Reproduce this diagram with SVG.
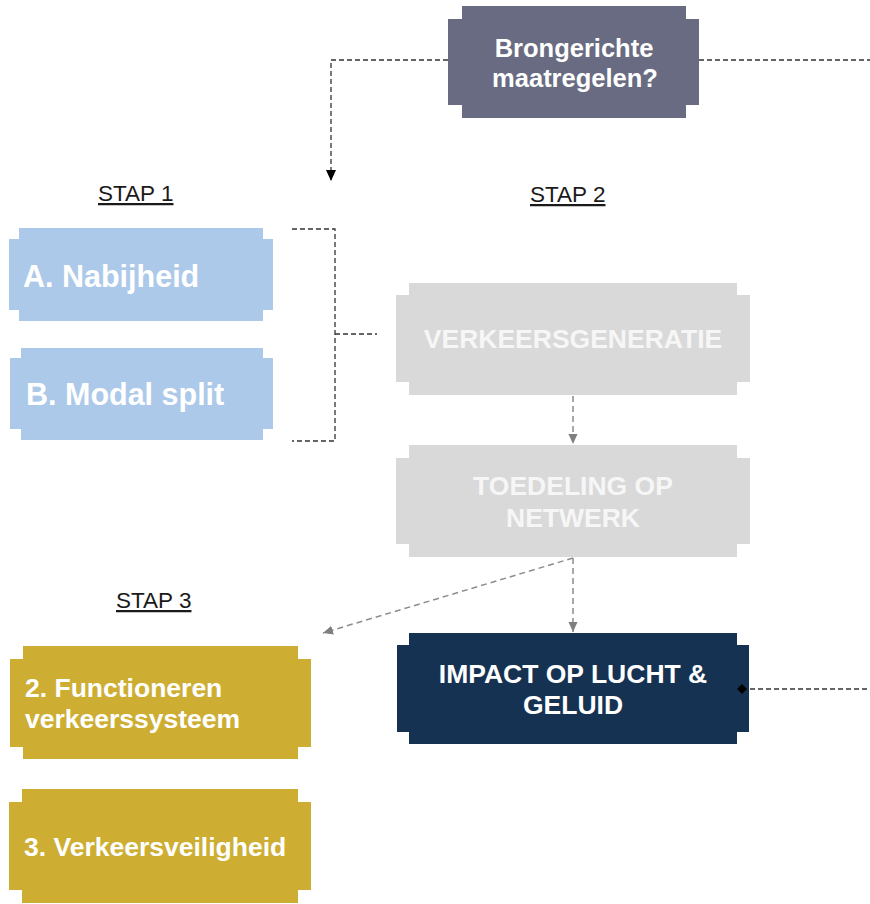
<svg xmlns="http://www.w3.org/2000/svg" width="870" height="904" viewBox="0 0 870 904">
<style>
.lbl{font-family:"Liberation Sans",Arial,sans-serif;font-weight:bold;fill:#ffffff}
.lg{fill:#f6f6f6}
.stap{font-family:"Liberation Sans",Arial,sans-serif;font-size:22.5px;fill:#1a1a1a;text-decoration:underline}
.dk{fill:none;stroke:#333333;stroke-width:1.3;stroke-dasharray:5 3}
.gr{fill:none;stroke:#8c8c8c;stroke-width:1.5;stroke-dasharray:6 4}
</style>
<defs>
<marker id="ak" markerUnits="userSpaceOnUse" markerWidth="12" markerHeight="12" viewBox="0 0 12 12" refX="11" refY="6" orient="auto">
<path d="M0,1 L11,6 L0,11 Z" fill="#000000"/>
</marker>
<marker id="ag" markerUnits="userSpaceOnUse" markerWidth="11" markerHeight="11" viewBox="0 0 11 11" refX="10" refY="5.5" orient="auto">
<path d="M0,1 L10,5.5 L0,10 Z" fill="#7f7f7f"/>
</marker>
<marker id="dm" markerUnits="userSpaceOnUse" markerWidth="10" markerHeight="10" viewBox="0 0 10 10" refX="5" refY="5" orient="auto">
<path d="M0,5 L5,0 L10,5 L5,10 Z" fill="#000000"/>
</marker>
</defs>

<g id="brongerichte">
<path d="M462,6 H686 V19 H699 V105 H686 V118 H462 V105 H448 V19 H462 Z" fill="#696b82"/>
<text class="lbl" font-size="25.5" text-anchor="middle" x="574" y="57">Brongerichte</text>
<text class="lbl" font-size="25.5" text-anchor="middle" x="575" y="87">maatregelen?</text>
</g>

<g id="stap1"><text class="stap" x="98" y="201">STAP 1</text></g>
<g id="stap2"><text class="stap" x="530" y="202">STAP 2</text></g>
<g id="stap3"><text class="stap" x="116" y="608">STAP 3</text></g>

<g id="nabijheid">
<path d="M19,228 H263 V239 H273 V310 H263 V321 H19 V310 H9 V239 H19 Z" fill="#adc9e9"/>
<text class="lbl" font-size="30.5" x="23" y="287">A. Nabijheid</text>
</g>

<g id="modal-split">
<path d="M21,348 H263 V358 H273 V429 H263 V440 H21 V429 H10 V358 H21 Z" fill="#adc9e9"/>
<text class="lbl" font-size="30.5" x="26" y="405">B. Modal split</text>
</g>

<g id="verkeersgeneratie">
<path d="M409,283 H737 V295 H750 V382 H737 V395 H409 V382 H396 V295 H409 Z" fill="#d9d9d9"/>
<text class="lbl lg" font-size="26.5" text-anchor="middle" x="573" y="348">VERKEERSGENERATIE</text>
</g>

<g id="toedeling">
<path d="M409,445 H737 V458 H750 V544 H737 V557 H409 V544 H396 V458 H409 Z" fill="#d9d9d9"/>
<text class="lbl lg" font-size="26.5" text-anchor="middle" x="573" y="495">TOEDELING OP</text>
<text class="lbl lg" font-size="26.5" text-anchor="middle" x="573" y="527">NETWERK</text>
</g>

<g id="impact">
<path d="M409,633 H737 V645 H749 V732 H737 V744 H409 V732 H397 V645 H409 Z" fill="#163253"/>
<text class="lbl" font-size="26.5" text-anchor="middle" x="573" y="683">IMPACT OP LUCHT &amp;</text>
<text class="lbl" font-size="26.5" text-anchor="middle" x="573" y="714">GELUID</text>
</g>

<g id="functioneren">
<path d="M23,646 H298 V659 H311 V747 H298 V759 H23 V747 H10 V659 H23 Z" fill="#cdae33"/>
<text class="lbl" font-size="26.5" x="25" y="697">2. Functioneren</text>
<text class="lbl" font-size="26.5" x="25" y="728">verkeerssysteem</text>
</g>

<g id="verkeersveiligheid">
<path d="M22,789 H298 V802 H311 V890 H298 V903 H22 V890 H9 V802 H22 Z" fill="#cdae33"/>
<text class="lbl" font-size="26.5" x="24" y="856">3. Verkeersveiligheid</text>
</g>

<g id="connectors">
<path class="dk" d="M448,60 H331 V181" marker-end="url(#ak)"/>
<path class="dk" d="M699,60 H870"/>
<path class="dk" d="M292,229 H335 V441 H292"/>
<path class="dk" d="M335,334 H377"/>
<path class="gr" d="M573,396 V444" marker-end="url(#ag)"/>
<path class="gr" d="M573,558 V632" marker-end="url(#ag)"/>
<path class="gr" d="M573,558 L323,633" marker-end="url(#ag)"/>
<path class="dk" d="M742,689 H870" marker-start="url(#dm)"/>
</g>
</svg>
